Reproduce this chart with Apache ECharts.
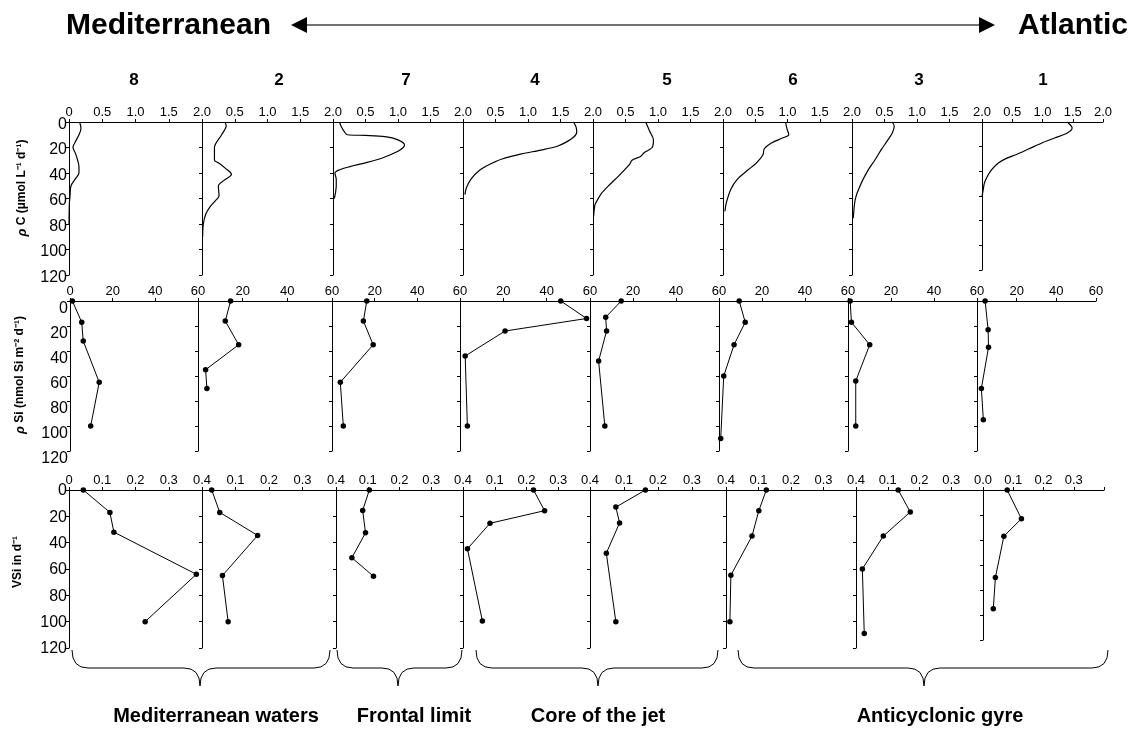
<!DOCTYPE html>
<html><head><meta charset="utf-8">
<script src="https://cdn.jsdelivr.net/npm/echarts@6/dist/echarts.min.js"></script>
<style>html,body{margin:0;padding:0;background:#fff}#c{width:1131px;height:729px}</style>
</head><body><div id="c"></div>
<script>
// ---------- DATA ----------
const stations = ['8', '2', '7', '4', '5', '6', '3', '1'];
const regionLabels = ['Mediterranean waters', 'Frontal limit', 'Core of the jet', 'Anticyclonic gyre'];
const rowTitles = ['{i|ρ} C (µmol L⁻¹ d⁻¹)', '{i|ρ} Si (nmol Si m⁻² d⁻¹)', 'VSi in d⁻¹'];

// ρC profiles (depth m, µmol L-1 d-1)
const pcDepth8 = [0, 5, 10, 15, 20, 25, 30, 35, 40, 45, 50, 58, 65, 80];
const pcVal8   = [0.16, 0.18, 0.15, 0.10, 0.06, 0.10, 0.13, 0.15, 0.15, 0.09, 0.03, 0.015, 0.005, 0];
const pcDepth2 = [0, 3, 10, 20, 30, 32, 36, 41, 46, 50, 58, 62, 66, 72, 80, 90];
const pcVal2   = [0.35, 0.37, 0.30, 0.19, 0.19, 0.25, 0.35, 0.45, 0.33, 0.25, 0.26, 0.20, 0.13, 0.06, 0.02, 0.01];
const pcDepth7 = [0, 4, 8, 10, 10.5, 11.5, 14, 18, 20, 23, 28, 32, 35, 37.5, 40, 45, 50, 55, 60];
const pcVal7   = [0.10, 0.13, 0.18, 0.22, 0.5, 0.8, 1.0, 1.10, 1.08, 1.0, 0.77, 0.5, 0.26, 0.1, 0.03, 0.05, 0.05, 0.04, 0.02];
const pcDepth4 = [0, 4, 8, 12, 16, 19, 22, 25, 29, 33, 38, 45, 52, 57];
const pcVal4   = [1.70, 1.74, 1.75, 1.70, 1.58, 1.45, 1.2, 0.9, 0.6, 0.42, 0.25, 0.12, 0.05, 0.03];
const pcDepth5 = [0, 7, 14, 20, 24, 27, 30, 33.5, 42, 50.5, 56, 61, 65, 74];
const pcVal5   = [0.81, 0.87, 0.93, 0.91, 0.79, 0.73, 0.60, 0.56, 0.40, 0.23, 0.13, 0.07, 0.03, 0.01];
const pcDepth6 = [0, 5, 10, 12.6, 16.5, 21, 25.7, 32, 37.5, 45, 53, 63.7, 70];
const pcVal6   = [0.97, 0.99, 1.02, 0.92, 0.75, 0.64, 0.62, 0.52, 0.39, 0.22, 0.12, 0.05, 0.03];
const pcDepth3 = [0, 3.4, 8.6, 15, 21.7, 30, 37.5, 45, 50.6, 57, 63.7, 75.5];
const pcVal3   = [0.62, 0.65, 0.62, 0.54, 0.45, 0.35, 0.25, 0.17, 0.12, 0.07, 0.04, 0.02];
const pcDepth1 = [0, 4.9, 8.9, 13, 17, 21.9, 26.5, 29.3, 33.3, 38.7, 44, 49.5, 55, 60.4];
const pcVal1   = [1.41, 1.49, 1.41, 1.2, 0.99, 0.77, 0.56, 0.41, 0.27, 0.16, 0.09, 0.04, 0.02, 0];

// ρSi (nmol Si m-2 d-1)
const psDepth8 = [0, 17, 32, 65, 100];  const psVal8 = [1.1, 5.5, 6.2, 13.7, 9.7];
const psDepth2 = [0, 16, 35, 55, 70];   const psVal2 = [14.6, 12.2, 18.2, 3.4, 4.0];
const psDepth7 = [0, 16, 35, 65, 100];  const psVal7 = [16.3, 14.7, 19.3, 3.9, 5.3];
const psDepth4 = [0, 14, 24, 44, 100];  const psVal4 = [46.5, 58.4, 20.8, 2.4, 3.4];
const psDepth5 = [0, 13, 24, 48, 100];  const psVal5 = [14.5, 7.3, 7.7, 4.0, 6.9];
const psDepth6 = [0, 17, 35, 60, 110];  const psVal6 = [9.4, 12.2, 7.0, 2.2, 0.8];
const psDepth3 = [0, 17, 35, 64, 100];  const psVal3 = [1.0, 1.6, 10.1, 3.6, 3.6];
const psDepth1 = [0, 23, 37, 70, 95];   const psVal1 = [4.1, 5.6, 5.8, 2.2, 3.2];

// VSi (d-1)
const vsDepth8 = [0, 17, 32, 64, 100];        const vsVal8 = [0.043, 0.123, 0.135, 0.383, 0.229];
const vsDepth2 = [0, 17, 34.5, 65, 100];      const vsVal2 = [0.029, 0.053, 0.166, 0.061, 0.078];
const vsDepth7 = [0, 15.5, 32.5, 51.5, 65.5]; const vsVal7 = [0.105, 0.084, 0.093, 0.050, 0.118];
const vsDepth4 = [0, 15.7, 25.3, 44.7, 99.5]; const vsVal4 = [0.222, 0.257, 0.085, 0.014, 0.061];
const vsDepth5 = [0, 13, 25, 48, 100];        const vsVal5 = [0.163, 0.076, 0.087, 0.048, 0.076];
const vsDepth6 = [0, 15.7, 35, 64.7, 100];    const vsVal6 = [0.124, 0.101, 0.080, 0.015, 0.012];
const vsDepth3 = [0, 16.7, 35, 60, 109];      const vsVal3 = [0.133, 0.171, 0.086, 0.020, 0.026];
const vsDepth1 = [0, 23, 37, 70, 95];         const vsVal1 = [0.080, 0.127, 0.069, 0.041, 0.034];

// ---------- BUILD ----------
const pcD = [pcDepth8, pcDepth2, pcDepth7, pcDepth4, pcDepth5, pcDepth6, pcDepth3, pcDepth1];
const pcV = [pcVal8, pcVal2, pcVal7, pcVal4, pcVal5, pcVal6, pcVal3, pcVal1];
const psD = [psDepth8, psDepth2, psDepth7, psDepth4, psDepth5, psDepth6, psDepth3, psDepth1];
const psV = [psVal8, psVal2, psVal7, psVal4, psVal5, psVal6, psVal3, psVal1];
const vsD = [vsDepth8, vsDepth2, vsDepth7, vsDepth4, vsDepth5, vsDepth6, vsDepth3, vsDepth1];
const vsV = [vsVal8, vsVal2, vsVal7, vsVal4, vsVal5, vsVal6, vsVal3, vsVal1];

const FONT = '"Liberation Sans", Arial, sans-serif';
const rows = [
  { xs: [69, 202, 333, 463, 593, 723, 852, 982, 1103], top: 122, h: [153,153,153,153,153,153,153,148], max: 2, interval: 0.5, shift: 5 },
  { xs: [70, 198, 332, 460, 590, 719, 848, 977, 1096], top: 301, h: [150,150,150,150,150,150,150,150], max: 60, interval: 20, shift: 15 },
  { xs: [69, 202, 336, 463, 590, 726, 856, 983, 1104], top: 490, h: [158,158,158,158,158,158,158,150], max: 0.4, interval: 0.1, shift: 2 }
];

function fmt(r, c) {
  return function (v) {
    if (Math.abs(v) < 1e-9) {
      if (c === 0) return '0';
      if (r === 2 && c === 7) return '0.0';
      return '';
    }
    if (r === 1) return String(Math.round(v));
    if (r === 2 && c >= 6 && Math.abs(v - 0.4) < 1e-6) return '';
    return v.toFixed(1);
  };
}

const grids = [], xAxes = [], yAxes = [], series = [];
rows.forEach((row, r) => {
  for (let c = 0; c < 8; c++) {
    const k = r * 8 + c;
    grids.push({ left: row.xs[c], top: row.top, width: row.xs[c + 1] - row.xs[c], height: row.h[c], containLabel: false, outerBoundsMode: 'none' });
    xAxes.push({
      gridIndex: k, type: 'value', position: 'top', min: 0, max: row.max, interval: row.interval,
      axisLine: { show: true, onZero: false, lineStyle: { color: '#000', width: 1 } },
      axisTick: { show: true, length: 3, lineStyle: { color: '#000' } },
      splitLine: { show: false },
      axisLabel: { show: true, interval: 0, fontSize: 13, color: '#000', margin: 3, fontFamily: FONT, formatter: fmt(r, c), showMinLabel: true, showMaxLabel: true }
    });
    yAxes.push({
      gridIndex: k, type: 'value', inverse: true, min: 0, max: 120, interval: 20,
      axisLine: { show: true, onZero: false, lineStyle: { color: '#000', width: 1 } },
      axisTick: { show: true, length: 3, lineStyle: { color: '#000' } },
      splitLine: { show: false },
      axisLabel: { show: c === 0, color: '#000', margin: 2,
        formatter: v => '{d|' + v + '}',
        rich: { d: { fontSize: 16, fontFamily: FONT, color: '#000', padding: [row.shift, 0, 0, 0] } } }
    });
    let D, V;
    if (r === 0) { D = pcD[c]; V = pcV[c]; }
    else if (r === 1) { D = psD[c]; V = psV[c]; }
    else { D = vsD[c]; V = vsV[c]; }
    const data = V.map((v, j) => [v, D[j]]);
    if (r === 0) {
      series.push({ type: 'line', xAxisIndex: k, yAxisIndex: k, data, symbol: 'none', showSymbol: false, smooth: 0.3, clip: false, silent: true,
        lineStyle: { color: '#000', width: 1.2 } });
    } else {
      series.push({ type: 'line', xAxisIndex: k, yAxisIndex: k, data, symbol: 'circle', symbolSize: 5.5, clip: false, silent: true,
        itemStyle: { color: '#000' }, lineStyle: { color: '#000', width: 1 } });
    }
  }
});

// graphics
const colX = [134, 279, 406, 535, 667, 793, 919, 1043];
const braces = [[72, 330, 200], [337, 462, 398], [476, 718, 598], [738, 1108, 924]];
const labelX = [216, 414, 598, 940];
const titleY = [188, 375, 562];
const titleX = [22, 20, 18];

const graphic = [];
graphic.push({ type: 'text', x: 66, y: 26, style: { text: 'Mediterranean', font: 'bold 30px ' + FONT, fill: '#000', align: 'left', verticalAlign: 'middle' } });
graphic.push({ type: 'text', x: 1128, y: 26, style: { text: 'Atlantic', font: 'bold 30px ' + FONT, fill: '#000', align: 'right', verticalAlign: 'middle' } });
graphic.push({ type: 'line', shape: { x1: 300, y1: 25, x2: 985, y2: 25 }, style: { stroke: '#444', lineWidth: 1.5 } });
graphic.push({ type: 'polygon', shape: { points: [[291, 25], [307, 17], [307, 33]] }, style: { fill: '#000' } });
graphic.push({ type: 'polygon', shape: { points: [[995, 25], [979, 17], [979, 33]] }, style: { fill: '#000' } });
stations.forEach((s, i) => {
  graphic.push({ type: 'text', x: colX[i], y: 80, style: { text: s, font: 'bold 17px ' + FONT, fill: '#000', align: 'center', verticalAlign: 'middle' } });
});
rowTitles.forEach((t, i) => {
  graphic.push({ type: 'text', x: titleX[i], y: titleY[i], rotation: Math.PI / 2,
    style: { text: t, font: 'bold 12px ' + FONT, fill: '#000', align: 'center', verticalAlign: 'middle',
      rich: { i: { fontStyle: 'italic', fontWeight: 'bold', fontSize: 13, fontFamily: FONT } } } });
});
const braceStyle = { stroke: '#000', fill: null, lineWidth: 1 };
braces.forEach(([a, b, m]) => {
  const yT = 650, yF = 668, yB = 686, r = 16;
  graphic.push({ type: 'bezierCurve', shape: { x1: a, y1: yT, cpx1: a, cpy1: yF, x2: a + r, y2: yF }, style: braceStyle });
  graphic.push({ type: 'line', shape: { x1: a + r, y1: yF, x2: m - r, y2: yF }, style: braceStyle });
  graphic.push({ type: 'bezierCurve', shape: { x1: m - r, y1: yF, cpx1: m, cpy1: yF, x2: m, y2: yB }, style: braceStyle });
  graphic.push({ type: 'bezierCurve', shape: { x1: m, y1: yB, cpx1: m, cpy1: yF, x2: m + r, y2: yF }, style: braceStyle });
  graphic.push({ type: 'line', shape: { x1: m + r, y1: yF, x2: b - r, y2: yF }, style: braceStyle });
  graphic.push({ type: 'bezierCurve', shape: { x1: b - r, y1: yF, cpx1: b, cpy1: yF, x2: b, y2: yT }, style: braceStyle });
});
regionLabels.forEach((t, i) => {
  graphic.push({ type: 'text', x: labelX[i], y: 716, style: { text: t, font: 'bold 20px ' + FONT, fill: '#000', align: 'center', verticalAlign: 'middle' } });
});

const chart = echarts.init(document.getElementById('c'), null, { renderer: 'canvas' });
chart.setOption({
  backgroundColor: '#fff',
  animation: false,
  grid: grids, xAxis: xAxes, yAxis: yAxes, series, graphic
});
</script></body></html>
